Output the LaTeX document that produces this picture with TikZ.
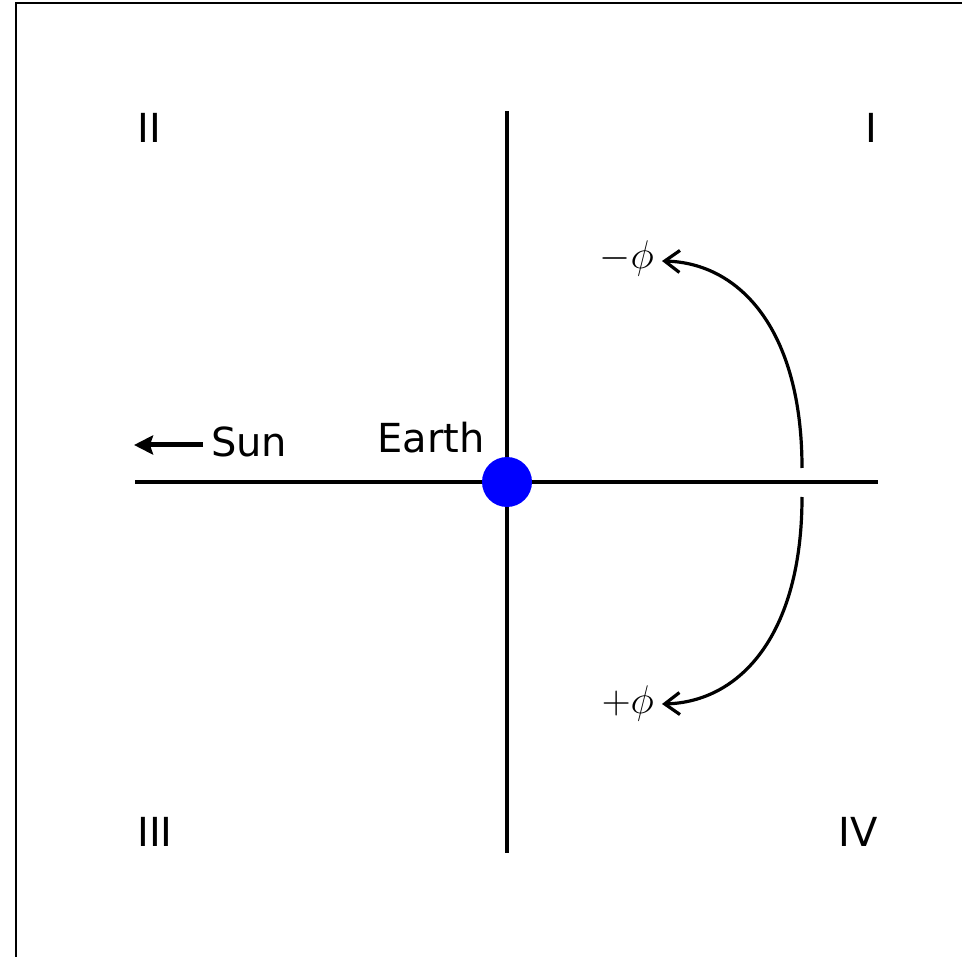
\documentclass[tikz,border=0pt]{standalone}
\usepackage{fix-cm}
\usepackage{fontspec}
\setmainfont{DejaVu Sans}
\usetikzlibrary{arrows.meta}
\begin{document}
\begin{tikzpicture}[x=1pt,y=-1pt,
  axisline/.style={line width=3.2pt,black},
  lbl/.style={inner sep=0pt,font=\fontsize{40}{44}\selectfont},
  philbl/.style={inner sep=0pt,font=\fontsize{40}{42}\selectfont},
  curvearrow/.style={line width=3.2pt,-{Straight Barb[length=15pt,width=22pt,line width=3.2pt]}},
  sunarrow/.style={line width=5pt,-{Stealth[length=19pt,width=19pt,inset=3pt]}}
]
\useasboundingbox (0,0) rectangle (962,957);
% frame
\draw[line width=2pt] (16,957) -- (16,3) -- (962,3);
% axes
\coordinate (xl) at (135,482);
\coordinate (xr) at (878,482);
\coordinate (yt) at (507,111);
\coordinate (yb) at (507,853);
\draw[axisline] (xl) -- (xr);
\draw[axisline] (yt) -- (yb);
% earth
\node[circle,fill=blue,minimum size=50pt,inner sep=0pt] (earth) at (507,482) {};
\node[lbl,anchor=base east] (earthlbl) at (485,453) {Earth};
% sun
\coordinate (sunstart) at (203,445);
\coordinate (sunend) at (134,445);
\draw[sunarrow] (sunstart) -- (sunend);
\node[lbl,anchor=base west] (sunlbl) at (211,457) {Sun};
% quadrants
\node[lbl,anchor=base west] (q2) at (137,143) {II};
\node[lbl,anchor=base east] (q1) at (877,143) {I};
\node[lbl,anchor=base west] (q3) at (137,846) {III};
\node[lbl,anchor=base east] (q4) at (878,846) {IV};
% phi labels
\node[philbl,anchor=base east] (mphi) at (654,269) {$-\phi$};
\node[philbl,anchor=base east] (pphi) at (654,713) {$+\phi$};
\coordinate (ustart) at (802,468);
\coordinate (utip) at (662,261);
\coordinate (lstart) at (802,497);
\coordinate (ltip) at (662,704);
\draw[curvearrow] (ustart) .. controls (802,330) and (740,263) .. (utip);
\draw[curvearrow] (lstart) .. controls (802,635) and (740,702) .. (ltip);
\end{tikzpicture}
\end{document}
